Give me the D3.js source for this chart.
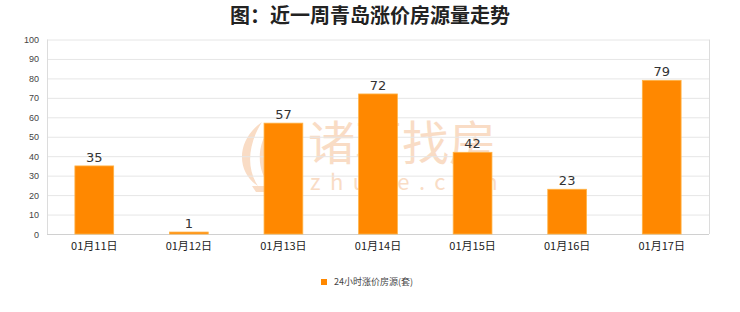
<!DOCTYPE html>
<html>
<head>
<meta charset="utf-8">
<script src="https://cdn.jsdelivr.net/npm/d3@7"></script>
<style>
  body { margin: 0; background: #fff; }
  svg { display: block; font-family: "Noto Sans CJK SC", "Noto Sans", sans-serif; }
</style>
</head>
<body>
<svg id="chart" width="740" height="312"></svg>
<script>
const title = '图：近一周青岛涨价房源量走势';
const categories = ['01月11日', '01月12日', '01月13日', '01月14日', '01月15日', '01月16日', '01月17日'];
const values = [35, 1, 57, 72, 42, 23, 79];
const yTicks = [0, 10, 20, 30, 40, 50, 60, 70, 80, 90, 100];
const legendLabel = '24小时涨价房源(套)';

const svg = d3.select('#chart');
const plotLeft = 47, plotRight = 709, plotTop = 39.5, plotBottom = 234;

const x = d3.scaleBand().domain(categories).range([plotLeft, plotRight]).paddingInner(0.59).paddingOuter(0.295);
const y = d3.scaleLinear().domain([0, 100]).range([plotBottom, plotTop]);

// watermark (faint, behind everything)
const wm = svg.append('g').attr('fill', '#f9dcc5');
wm.append('path')
  .attr('d', 'M262,122 C236,140 236,172 258,186 C246,168 248,144 262,122 Z M272,124 C256,144 256,170 270,186 C264,166 264,146 272,124 Z M282,128 C274,146 274,168 284,184 C282,166 282,148 282,128 Z M252,186 L292,186 L290,192 L256,192 Z');
wm.append('text').attr('x', 308).attr('y', 160).attr('font-size', 47).text('诸葛找房');
wm.append('text').attr('x', 310).attr('y', 190).attr('font-size', 22).attr('letter-spacing', 9.5).text('zhuge.com');

// grid
svg.append('g').selectAll('line').data(yTicks).join('line')
  .attr('x1', plotLeft).attr('x2', plotRight)
  .attr('y1', d => y(d) + 0.5).attr('y2', d => y(d) + 0.5)
  .attr('stroke', d => d === 0 ? '#d0d0d0' : '#e6e6e6');
svg.append('line').attr('x1', plotLeft + 0.5).attr('x2', plotLeft + 0.5).attr('y1', plotTop).attr('y2', plotBottom).attr('stroke', '#dcdcdc');
svg.append('line').attr('x1', plotRight + 0.5).attr('x2', plotRight + 0.5).attr('y1', plotTop).attr('y2', plotBottom).attr('stroke', '#dcdcdc');

// y labels
svg.append('g').selectAll('text').data(yTicks).join('text')
  .attr('x', 39).attr('y', d => y(d) + 3.5)
  .attr('text-anchor', 'end').attr('font-size', 9).attr('fill', '#444')
  .attr('font-family', '"Liberation Sans", Arial, sans-serif')
  .text(d => d);

// bars
svg.append('g').selectAll('rect').data(values).join('rect')
  .attr('x', (d, i) => x(categories[i]))
  .attr('y', d => y(d))
  .attr('width', x.bandwidth())
  .attr('height', d => plotBottom - y(d))
  .attr('fill', '#ff8800')
  .attr('stroke', '#ffb347').attr('stroke-width', 0.8);

// value labels
svg.append('g').selectAll('text').data(values).join('text')
  .attr('x', (d, i) => x(categories[i]) + x.bandwidth() / 2)
  .attr('y', d => y(d) - 4)
  .attr('text-anchor', 'middle').attr('font-size', 13).attr('fill', '#333')
  .attr('font-family', '"DejaVu Sans", sans-serif')
  .text(d => d);

// x labels
svg.append('g').selectAll('text').data(categories).join('text')
  .attr('x', d => x(d) + x.bandwidth() / 2)
  .attr('y', 250)
  .attr('text-anchor', 'middle').attr('font-size', 11).attr('fill', '#222')
  .text(d => d);

// title
svg.append('text').attr('x', 370).attr('y', 23).attr('text-anchor', 'middle')
  .attr('font-size', 20).attr('font-weight', 'bold').attr('fill', '#222').text(title);

// legend
svg.append('rect').attr('x', 321).attr('y', 279).attr('width', 6).attr('height', 6).attr('fill', '#ff8800');
svg.append('text').attr('x', 334).attr('y', 285).attr('font-size', 9).attr('fill', '#444').text(legendLabel);
</script>
</body>
</html>
